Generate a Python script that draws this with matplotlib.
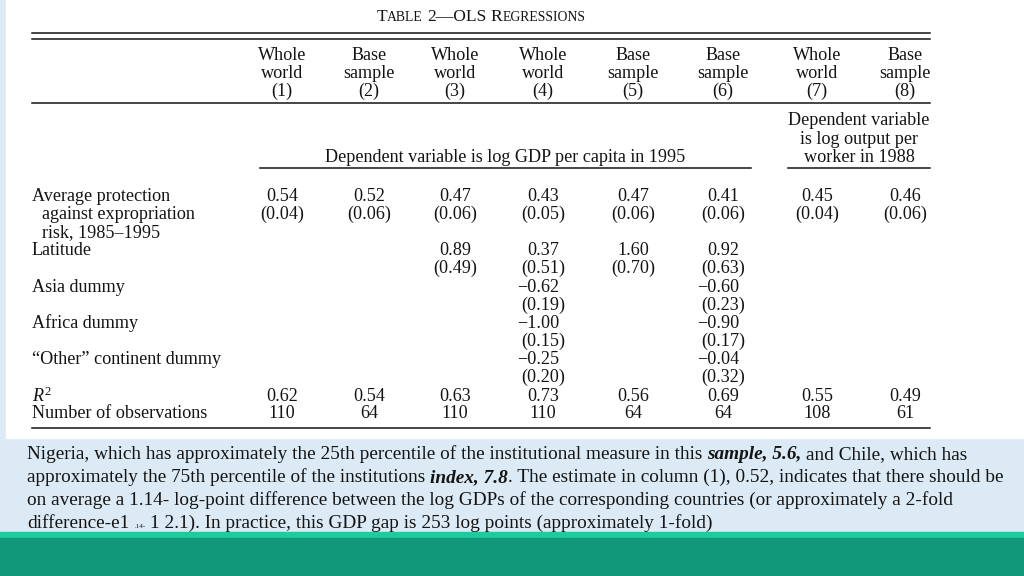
import matplotlib
matplotlib.use("Agg")
import matplotlib.pyplot as plt
from matplotlib.patches import Rectangle

plt.rcParams['font.family'] = ['Liberation Serif', 'DejaVu Serif']
plt.rcParams['mathtext.fontset'] = 'custom'
plt.rcParams['mathtext.rm'] = 'Liberation Serif'
plt.rcParams['mathtext.it'] = 'Liberation Serif:italic'

# данные таблицы
col_top = ["Whole", "Base", "Whole", "Whole", "Base", "Base", "Whole", "Base"]
col_mid = ["world", "sample", "world", "world", "sample", "sample", "world", "sample"]
col_num = ["(1)", "(2)", "(3)", "(4)", "(5)", "(6)", "(7)", "(8)"]

protection = [0.54, 0.52, 0.47, 0.43, 0.47, 0.41, 0.45, 0.46]
protection_se = [0.04, 0.06, 0.06, 0.05, 0.06, 0.06, 0.04, 0.06]
latitude = [None, None, 0.89, 0.37, 1.60, 0.92, None, None]
latitude_se = [None, None, 0.49, 0.51, 0.70, 0.63, None, None]
asia = [None, None, None, -0.62, None, -0.60, None, None]
asia_se = [None, None, None, 0.19, None, 0.23, None, None]
africa = [None, None, None, -1.00, None, -0.90, None, None]
africa_se = [None, None, None, 0.15, None, 0.17, None, None]
other = [None, None, None, -0.25, None, -0.04, None, None]
other_se = [None, None, None, 0.20, None, 0.32, None, None]
r2 = [0.62, 0.54, 0.63, 0.73, 0.56, 0.69, 0.55, 0.49]
nobs = [110, 64, 110, 110, 64, 64, 108, 61]

row_labels = ["Average protection", "against expropriation", "risk, 1985\u20131995",
              "Latitude", "Asia dummy", "Africa dummy",
              "\u201cOther\u201d continent dummy", "$R^2$", "Number of observations"]

para_lines = [
    [("Nigeria, which has approximately the 25th percentile of the institutional measure in this ", "n"),
     ("sample, 5.6,", "bi"), (" and Chile, which has", "n")],
    [("approximately the 75th percentile of the institutions ", "n"), ("index, 7.8", "bi"),
     (". The estimate in column (1), 0.52, indicates that there should be", "n")],
    [("on average a 1.14- log-point difference between the log GDPs of the corresponding countries (or approximately a 2-fold", "n")],
    [("difference-e1 ", "n"), (".14-", "tiny"),
     (" 1 2.1). In practice, this GDP gap is 253 log points (approximately 1-fold)", "n")],
]

INK = '#141414'
FS = 13.1
DY = 1.5  # чуть ниже, центр по bbox задирает текст вверх
col_x = [282, 369, 455, 543, 633, 723, 817, 905]

fig = plt.figure(figsize=(10.24, 5.76), dpi=100)
fig.patch.set_facecolor('#dbeaf5')
ax = fig.add_axes([0, 0, 1, 1])
ax.set_xlim(0, 1024)
ax.set_ylim(576, 0)
ax.axis('off')

# белая "страница" и зелёные полосы снизу
ax.add_patch(Rectangle((6, 0), 1018, 438, color='white', zorder=0))
ax.add_patch(Rectangle((0, 532), 1024, 6, color='#1fcb9c', zorder=0))
ax.add_patch(Rectangle((0, 538), 1024, 38, color='#11977a', zorder=0))

renderer = fig.canvas.get_renderer()


def width(t):
    return t.get_window_extent(renderer).width


def space_w(props):
    a = ax.text(0, 0, "a a", **props)
    b = ax.text(0, 0, "aa", **props)
    w = width(a) - width(b)
    a.remove()
    b.remove()
    return w


def runs(x, y, items, styles, center=False):
    # кусочки текста разными стилями подряд в одну строку
    made = []
    cur = x
    for s, st in items:
        props = styles[st]
        sw = space_w(props)
        lead = len(s) - len(s.lstrip(' '))
        trail = len(s) - len(s.rstrip(' '))
        cur += lead * sw
        t = ax.text(cur, y, s.strip(' '), ha='left', va='baseline', color=INK, **props)
        cur += width(t) + trail * sw
        made.append(t)
    if center:
        shift = -(cur - x) / 2
        for t in made:
            t.set_x(t.get_position()[0] + shift)
    return made


def cell(x, y, s, ha='center'):
    ax.text(x, y + DY, s, ha=ha, va='center', fontsize=FS, color=INK)


# заголовок капителью
title_styles = {"big": dict(fontsize=12.6), "small": dict(fontsize=9.9)}
runs(481, 21, [("T", "big"), ("ABLE", "small"), (" 2\u2014OLS ", "big"),
               ("R", "big"), ("EGRESSIONS", "small")], title_styles, center=True)

# линейки
L = dict(color=INK, lw=1.1)
ax.plot([32, 930], [33, 33], **L)
ax.plot([32, 930], [38.5, 38.5], **L)
ax.plot([32, 930], [103, 103], **L)
ax.plot([260, 751], [168, 168], **L)
ax.plot([788, 930], [168, 168], **L)
ax.plot([32, 930], [428, 428], **L)

# шапка колонок
for i, x in enumerate(col_x):
    cell(x, 54, col_top[i])
    cell(x, 72, col_mid[i])
    cell(x, 90, col_num[i])

cell(505, 156, "Dependent variable is log GDP per capita in 1995")
for j, s in enumerate(["Dependent variable", "is log output per", "worker in 1988"]):
    cell(859, 119 + 18.5 * j, s)

# подписи строк
label_y = [195, 213, 231, 249, 286, 322, 358, 395, 412]
label_x = [32, 42, 42, 32, 32, 32, 32, 32, 32]
for s, x, y in zip(row_labels, label_x, label_y):
    cell(x, y, s, ha='left')

probe = ax.text(0, 0, "0.00", fontsize=FS)
half = width(probe) / 2
probe.remove()


def coef(x, y, v):
    if v is None:
        return
    if v < 0:
        cell(x + half, y, f"\u2212{abs(v):.2f}", ha='right')
    else:
        cell(x, y, f"{v:.2f}")


def se(x, y, v):
    if v is None:
        return
    cell(x, y, f"({v:.2f})")


blocks = [(protection, protection_se, 195), (latitude, latitude_se, 249),
          (asia, asia_se, 286), (africa, africa_se, 322), (other, other_se, 358)]
for i, x in enumerate(col_x):
    for vals, ses, y in blocks:
        coef(x, y, vals[i])
        se(x, y + 18, ses[i])
    coef(x, 395, r2[i])
    cell(x, 412, str(nobs[i]))

# абзац снизу
PFS = 13.9
para_styles = {"n": dict(fontsize=PFS),
               "bi": dict(fontsize=PFS, fontweight='bold', fontstyle='italic'),
               "tiny": dict(fontsize=5)}
for k, line in enumerate(para_lines):
    runs(27, 459 + 23 * k, line, para_styles)

fig.savefig("out.png", dpi=100, facecolor=fig.get_facecolor())
